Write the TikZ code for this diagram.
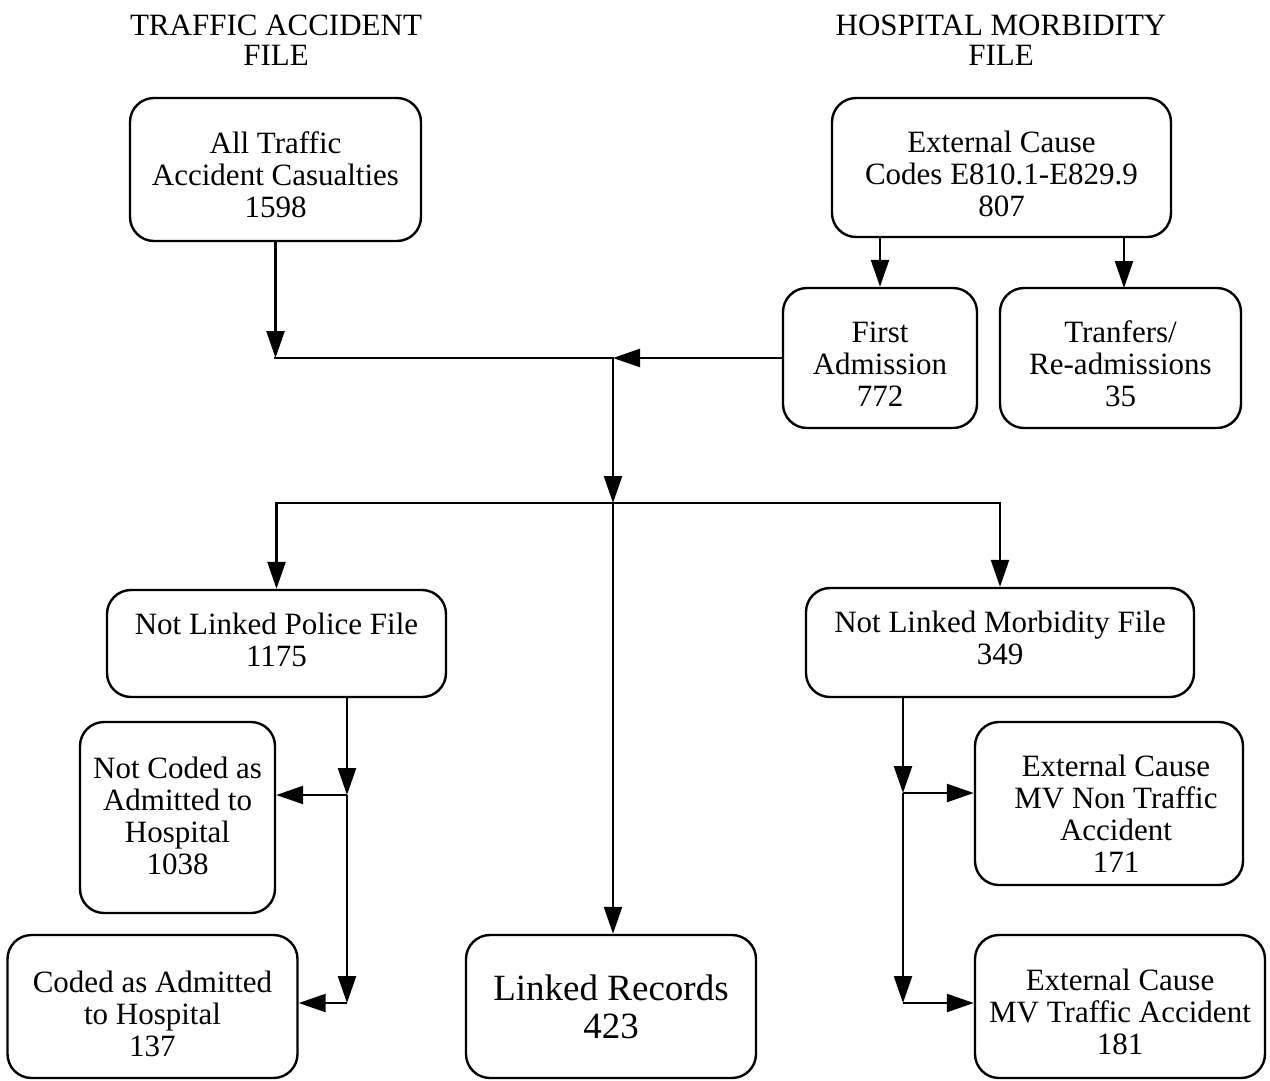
\documentclass[tikz,border=0pt]{standalone}
\usepackage{fontspec}
\setmainfont{Liberation Serif}
\usetikzlibrary{arrows.meta}
\begin{document}
\begin{tikzpicture}[x=1pt,y=-1pt,
  box/.style={draw,line width=2.4pt,rounded corners=24pt,inner sep=0pt},
  txt/.style={align=center,inner sep=0pt,font=\fontsize{31}{32}\selectfont},
  ttl/.style={align=center,inner sep=0pt,font=\fontsize{31}{30}\selectfont},
  arr/.style={line width=2.4pt,-{Triangle[length=27pt,width=18pt]}},
  ln/.style={line width=2.4pt,line cap=rect}]
\useasboundingbox (0,0) rectangle (1270,1080);
\node[ttl] (t1) at (276,40) {TRAFFIC ACCIDENT\\FILE};
\node[ttl] (t2) at (1001,40) {HOSPITAL MORBIDITY\\FILE};
\node[box,minimum width=291pt,minimum height=143pt,
  label={[txt,yshift=-5pt]center:{All Traffic\\Accident Casualties\\1598}}] (A) at (275.5,169.5) {};
\node[box,minimum width=339pt,minimum height=139pt,
  label={[txt,yshift=-6pt]center:{External Cause\\Codes E810.1-E829.9\\807}}] (B) at (1001.5,167.5) {};
\node[box,minimum width=194pt,minimum height=140pt,
  label={[txt,yshift=-6pt]center:{First\\Admission\\772}}] (C) at (880,358) {};
\node[box,minimum width=241pt,minimum height=140pt,
  label={[txt,yshift=-6pt]center:{Tranfers/\\Re-admissions\\35}}] (D) at (1120.5,358) {};
\node[box,minimum width=339pt,minimum height=107pt,
  label={[txt,yshift=4pt]center:{Not Linked Police File\\1175}}] (E) at (276.5,643.5) {};
\node[box,minimum width=388pt,minimum height=109pt,
  label={[txt,yshift=5pt]center:{Not Linked Morbidity File\\349}}] (F) at (1000,642.5) {};
\node[box,minimum width=195pt,minimum height=191pt,
  label={[txt,yshift=2pt]center:{Not Coded as\\Admitted to\\Hospital\\1038}}] (G) at (177.5,817.5) {};
\node[box,minimum width=290pt,minimum height=143pt,
  label={[txt,yshift=-7pt]center:{Coded as Admitted\\to Hospital\\137}}] (H) at (152.5,1006.5) {};
\node[box,minimum width=290pt,minimum height=143pt,
  label={[txt,font=\fontsize{37}{38}\selectfont]center:{Linked Records\\423}}] (I) at (611,1006.5) {};
\node[box,minimum width=268pt,minimum height=163pt,
  label={[txt,yshift=-10pt,xshift=7pt]center:{External Cause\\MV Non Traffic\\Accident\\171}}] (J) at (1109,803.5) {};
\node[box,minimum width=290pt,minimum height=143pt,
  label={[txt,yshift=-5pt]center:{External Cause\\MV Traffic Accident\\181}}] (K) at (1120,1006.5) {};
% top connectors
\coordinate (j1) at (613,358);
\coordinate (jM) at (613,503);
\coordinate (d1) at (1124,288);
\draw[arr] (B.south -| C.north) -- (C.north);
\draw[arr] (B.south -| d1) -- (d1);
\draw[arr] (A.south) -- (A.south |- j1);
\draw[ln] (A.south |- j1) -- (j1);
\draw[arr] (C.west) -- (j1);
\draw[arr] (j1) -- (jM);
\draw[arr] (jM) -| (E.north);
\draw[arr] (jM) -| (F.north);
\draw[arr] (jM) -- (jM |- I.north);
% left tree
\coordinate (e1) at (347,795);
\coordinate (e2) at (347,1003);
\draw[arr] (e1 |- E.south) -- (e1);
\draw[arr] (e1) -- (e1 -| G.east);
\draw[arr] (e1) -- (e2);
\draw[arr] (e2) -- (e2 -| H.east);
% right tree
\coordinate (f1) at (903,793);
\coordinate (f2) at (903,1003);
\draw[arr] (f1 |- F.south) -- (f1);
\draw[arr] (f1) -- (f1 -| J.west);
\draw[arr] (f1) -- (f2);
\draw[arr] (f2) -- (f2 -| K.west);
\end{tikzpicture}
\end{document}
